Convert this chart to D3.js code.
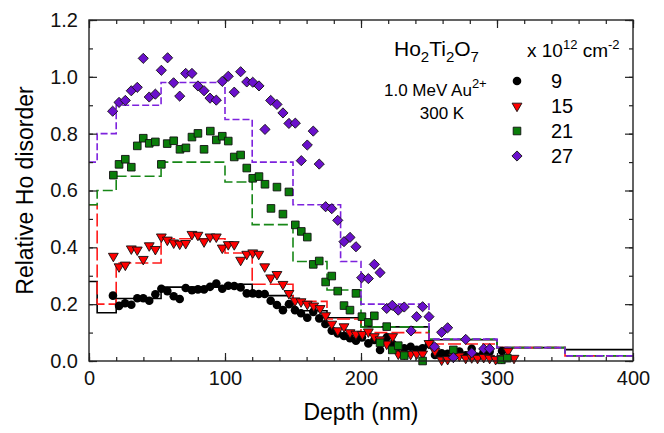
<!DOCTYPE html>
<html>
<head>
<meta charset="utf-8">
<script src="https://cdn.jsdelivr.net/npm/d3@7"></script>
<style>
  body { margin: 0; background: #fff; }
  svg { display: block; font-family: Arial, "Liberation Sans", sans-serif; }
</style>
</head>
<body>
<div id="chart"></div>
<script>
const width = 664;
const height = 433;

// step profiles (bin edges + level in each bin)
const binEdges = [0, 6, 20, 53, 100, 120, 150, 175, 200, 250, 300, 350, 400];
const binEdges27 = [0, 6, 20, 53, 100, 120, 150, 185, 200, 250, 300, 350, 400];
const step9 = [0.28, 0.17, 0.22, 0.26, 0.27, 0.23, 0.177, 0.152, 0.12, 0.075, 0.047, 0.04];
const step15 = [0.55, 0.20, 0.345, 0.43, 0.38, 0.27, 0.21, 0.148, 0.10, 0.06, 0.047, 0.018];
const step21 = [0.55, 0.60, 0.65, 0.70, 0.63, 0.48, 0.35, 0.25, 0.12, 0.077, 0.047, 0.018];
const step27 = [0.70, 0.80, 0.90, 0.98, 0.85, 0.70, 0.55, 0.35, 0.20, 0.077, 0.047, 0.018];

// measured points [depth nm, relative disorder]
const pts9 = [
  [17.6, 0.23], [22.1, 0.194], [26.5, 0.203], [31.1, 0.198], [35.5, 0.221], [39.9, 0.221],
  [44.3, 0.212], [48.8, 0.235], [53.2, 0.254], [57.6, 0.246], [62.3, 0.228], [66.7, 0.218],
  [71.1, 0.257], [75.7, 0.249], [80.1, 0.252], [84.6, 0.252], [89, 0.261], [93.6, 0.273],
  [98, 0.254], [102.4, 0.265], [106.8, 0.264], [111.5, 0.259], [116, 0.238], [120.4, 0.238],
  [124.8, 0.236], [129.2, 0.236], [133.6, 0.212], [138.2, 0.197], [142.6, 0.179], [147, 0.2],
  [151.5, 0.179], [155.9, 0.168], [160.5, 0.152], [164.9, 0.173], [169.3, 0.15], [173.8, 0.13],
  [178.5, 0.107], [182.9, 0.097], [187.5, 0.088], [191.9, 0.08], [196.3, 0.071], [200.7, 0.083],
  [205.4, 0.062], [209.8, 0.074], [214, 0.039], [218.9, 0.083], [223.3, 0.06], [227.4, 0.05],
  [231.8, 0.045], [236.5, 0.05], [240.9, 0.039], [245.3, 0.045], [250, 0.059], [254.4, 0.021],
  [259.3, 0.027], [263.7, 0.025], [268, 0.03], [272.3, 0.033], [277, 0.02], [281.4, 0.043],
  [285.7, 0.015], [290, 0.03], [294.6, 0.033], [303.7, 0.035]
];
const pts15 = [
  [17.9, 0.369], [22.1, 0.332], [26.7, 0.338], [31.1, 0.395], [35.5, 0.391], [39.9, 0.358],
  [44.3, 0.406], [48.8, 0.393], [53.2, 0.437], [57.6, 0.426], [62.3, 0.416], [66.7, 0.412],
  [71.1, 0.414], [75.7, 0.446], [80.1, 0.443], [84.6, 0.42], [89, 0.437], [93.6, 0.437],
  [98, 0.398], [102.4, 0.41], [106.8, 0.41], [111.5, 0.355], [116, 0.376], [120.4, 0.381],
  [124.8, 0.376], [129.2, 0.332], [133.6, 0.293], [138.2, 0.305], [142.6, 0.27], [147, 0.238],
  [151.5, 0.212], [155.9, 0.209], [160.5, 0.2], [165.2, 0.194], [169.9, 0.185], [174, 0.16],
  [178.5, 0.13], [182.9, 0.107], [187.5, 0.121], [191.9, 0.1], [196.3, 0.095], [201, 0.094],
  [205.4, 0.103], [209.8, 0.086], [214, 0.075], [218.9, 0.06], [223.3, 0.086], [227.4, 0.025],
  [231.8, 0.025], [236.5, 0.024], [240.9, 0.025], [245.3, 0.025], [250, 0.062], [254.4, 0.035],
  [259.3, 0.004], [263.7, 0.006], [268, 0.015], [272.3, 0.018], [277, 0.01], [281.4, 0.012],
  [285.7, 0.01], [290.2, 0.013], [294.6, 0.01], [299, 0.006], [303.5, 0.01], [308.1, 0.035],
  [312.5, 0.01]
];
const pts21 = [
  [17.9, 0.654], [22.1, 0.692], [26.7, 0.71], [31.1, 0.682], [35.5, 0.757], [39.9, 0.784],
  [44.3, 0.766], [48.8, 0.771], [53.2, 0.692], [57.5, 0.765], [62.3, 0.775], [66.9, 0.745],
  [71.3, 0.75], [75.7, 0.788], [80.1, 0.801], [84.6, 0.745], [89.2, 0.809], [93.6, 0.778],
  [98, 0.791], [102.4, 0.774], [106.8, 0.718], [111.5, 0.725], [116, 0.679], [120.4, 0.643],
  [125, 0.649], [129.4, 0.622], [133.8, 0.537], [138.2, 0.612], [142.6, 0.517], [147, 0.595],
  [151.7, 0.479], [156.1, 0.456], [160.5, 0.436], [164.9, 0.34], [169.3, 0.352], [174, 0.278],
  [178.5, 0.299], [182.9, 0.246], [187.5, 0.195], [191.9, 0.179], [196.3, 0.238], [200.7, 0.156],
  [205.4, 0.136], [209.8, 0.159], [214, 0.064], [218.9, 0.121], [223, 0.039], [227.4, 0.054],
  [231.8, 0.019], [245.3, 0.0], [267.9, 0.039], [303.2, 0.004], [307.6, 0.01]
];
const pts27 = [
  [17.4, 0.879], [22.1, 0.91], [26.7, 0.917], [31.1, 0.951], [35.5, 0.963], [39.9, 1.065],
  [44.3, 0.929], [48.8, 0.939], [53.2, 1.023], [57.8, 1.067], [62.2, 0.979], [66.7, 0.932],
  [71.1, 1.012], [75.7, 1.012], [80.1, 0.968], [84.6, 0.951], [89, 0.925], [93.6, 0.918],
  [98, 0.984], [102.4, 1.002], [106.8, 0.946], [111.5, 1.018], [116, 0.982], [120.4, 0.981],
  [125, 0.968], [129.4, 0.815], [133.6, 0.917], [138.2, 0.903], [142.6, 0.873], [147, 0.836],
  [151.7, 0.837], [156.1, 0.705], [160.5, 0.76], [164.9, 0.809], [169.3, 0.693], [174, 0.543],
  [178.5, 0.536], [182.9, 0.495], [187.5, 0.42], [191.9, 0.435], [196.3, 0.402], [200.5, 0.293],
  [205.4, 0.29], [209.8, 0.34], [214, 0.311], [218.9, 0.185], [223, 0.196], [227.4, 0.179],
  [231.8, 0.19], [236.8, 0.106], [240.9, 0.156], [245.3, 0.191], [250, 0.156], [254, 0.05],
  [259.3, 0.101], [263.7, 0.117], [267.9, 0.012], [277, 0.076], [281.4, 0.029], [290.2, 0.043],
  [294.6, 0.043]
];

const legendLabels = ["9", "15", "21", "27"];
const xTicks = [0, 100, 200, 300, 400];
const yTicks = [0, 0.2, 0.4, 0.6, 0.8, 1.0, 1.2];

const series = [
  { label: "9", edges: binEdges, steps: step9, pts: pts9, line: "#000", dash: null,
    shape: "circle", fill: "#000" },
  { label: "15", edges: binEdges, steps: step15, pts: pts15, line: "#ff1a1a", dash: "13,4",
    shape: "triangle", fill: "#ff0000" },
  { label: "21", edges: binEdges, steps: step21, pts: pts21, line: "#178717", dash: "10,4",
    shape: "square", fill: "#0a7d0a" },
  { label: "27", edges: binEdges27, steps: step27, pts: pts27, line: "#7d22dd", dash: "7,3",
    shape: "diamond", fill: "#6a10cc" }
];

const x = d3.scaleLinear().domain([0, 400]).range([89, 633]);
const y = d3.scaleLinear().domain([0, 1.2]).range([361, 20]);

const svg = d3.select("#chart").append("svg")
    .attr("width", width)
    .attr("height", height);

function symbolPath(shape) {
    if (shape === "circle") return d3.symbol(d3.symbolCircle, 58)();
    if (shape === "square") return d3.symbol(d3.symbolSquare, 58)();
    if (shape === "diamond") return d3.symbol(d3.symbolDiamond2, 66)();
    return d3.symbol(d3.symbolTriangle, 42)();
}
function symbolTransform(shape, px, py) {
    if (shape === "triangle") return `translate(${px},${py}) rotate(180)`;
    return `translate(${px},${py})`;
}

// step lines
const stepLine = d3.line()
    .x(d => x(d[0]))
    .y(d => y(d[1]))
    .curve(d3.curveStepAfter);

series.forEach(s => {
    const pts = s.steps.map((v, i) => [s.edges[i], v]);
    pts.push([s.edges[s.edges.length - 1], s.steps[s.steps.length - 1]]);
    svg.append("path")
        .datum(pts)
        .attr("fill", "none")
        .attr("stroke", s.line)
        .attr("stroke-width", 1.6)
        .attr("stroke-dasharray", s.dash)
        .attr("d", stepLine);
});

// markers
series.forEach(s => {
    svg.append("g").selectAll("path")
        .data(s.pts)
        .join("path")
        .attr("d", symbolPath(s.shape))
        .attr("transform", d => symbolTransform(s.shape, x(d[0]), y(d[1])))
        .attr("fill", s.fill)
        .attr("stroke", s.shape === "circle" ? "none" : "#111")
        .attr("stroke-width", 0.9);
});

// axes, ticks pointing inward on all four sides
const axisColor = "#222";
function styleAxis(g) {
    g.select(".domain").remove();
    g.selectAll("line").attr("stroke", axisColor).attr("stroke-width", 1.2);
    g.selectAll("text").attr("fill", "#111").style("font-size", "20px");
}

svg.append("g").attr("transform", "translate(0,361)")
    .call(d3.axisBottom(x).tickValues(d3.range(0, 401, 20)).tickSize(-4).tickFormat(""))
    .call(styleAxis);
svg.append("g").attr("transform", "translate(0,361)")
    .call(d3.axisBottom(x).tickValues(xTicks).tickSize(-8).tickPadding(10).tickFormat(d3.format("d")))
    .call(styleAxis);
svg.append("g").attr("transform", "translate(0,20)")
    .call(d3.axisTop(x).tickValues(d3.range(0, 401, 20)).tickSize(-4).tickFormat(""))
    .call(styleAxis);
svg.append("g").attr("transform", "translate(0,20)")
    .call(d3.axisTop(x).tickValues(xTicks).tickSize(-8).tickFormat(""))
    .call(styleAxis);

svg.append("g").attr("transform", "translate(89,0)")
    .call(d3.axisLeft(y).tickValues(d3.range(0, 1.21, 0.1)).tickSize(-4).tickFormat(""))
    .call(styleAxis);
svg.append("g").attr("transform", "translate(89,0)")
    .call(d3.axisLeft(y).tickValues(yTicks).tickSize(-8).tickPadding(11).tickFormat(d3.format(".1f")))
    .call(styleAxis);
svg.append("g").attr("transform", "translate(633,0)")
    .call(d3.axisRight(y).tickValues(d3.range(0, 1.21, 0.1)).tickSize(-4).tickFormat(""))
    .call(styleAxis);
svg.append("g").attr("transform", "translate(633,0)")
    .call(d3.axisRight(y).tickValues(yTicks).tickSize(-8).tickFormat(""))
    .call(styleAxis);

svg.append("rect")
    .attr("x", x(0)).attr("y", y(1.2))
    .attr("width", x(400) - x(0)).attr("height", y(0) - y(1.2))
    .attr("fill", "none")
    .attr("stroke", axisColor)
    .attr("stroke-width", 1.4);

// axis titles
svg.append("text")
    .attr("x", (x(0) + x(400)) / 2)
    .attr("y", 420)
    .attr("text-anchor", "middle")
    .style("font-size", "23px")
    .text("Depth (nm)");

svg.append("text")
    .attr("transform", `translate(33,${(y(0) + y(1.2)) / 2}) rotate(-90)`)
    .attr("text-anchor", "middle")
    .style("font-size", "23px")
    .text("Relative Ho disorder");

// annotation
const title = svg.append("text").attr("x", 394).attr("y", 56).style("font-size", "21px");
title.append("tspan").text("Ho");
title.append("tspan").attr("dy", 6).style("font-size", "15px").text("2");
title.append("tspan").attr("dy", -6).text("Ti");
title.append("tspan").attr("dy", 6).style("font-size", "15px").text("2");
title.append("tspan").attr("dy", -6).text("O");
title.append("tspan").attr("dy", 6).style("font-size", "15px").text("7");

const ion = svg.append("text").attr("x", 384).attr("y", 96).style("font-size", "17px");
ion.append("tspan").text("1.0 MeV Au");
ion.append("tspan").attr("dy", -8).style("font-size", "13px").text("2+");

svg.append("text")
    .attr("x", 442).attr("y", 119)
    .attr("text-anchor", "middle")
    .style("font-size", "17px")
    .text("300 K");

const unit = svg.append("text").attr("x", 527).attr("y", 57).style("font-size", "19px");
unit.append("tspan").text("x 10");
unit.append("tspan").attr("dy", -8).style("font-size", "13px").text("12");
unit.append("tspan").attr("dy", 8).text(" cm");
unit.append("tspan").attr("dy", -8).style("font-size", "13px").text("-2");

// legend
const legend = svg.append("g");
series.forEach((s, i) => {
    const ly = 81 + i * 25;
    legend.append("path")
        .attr("d", symbolPath(s.shape))
        .attr("transform", symbolTransform(s.shape, 517, ly))
        .attr("fill", s.fill)
        .attr("stroke", s.shape === "circle" ? "none" : "#111")
        .attr("stroke-width", 0.9);
    legend.append("text")
        .attr("x", 551)
        .attr("y", ly + 7)
        .style("font-size", "20px")
        .text(legendLabels[i]);
});
</script>
</body>
</html>
